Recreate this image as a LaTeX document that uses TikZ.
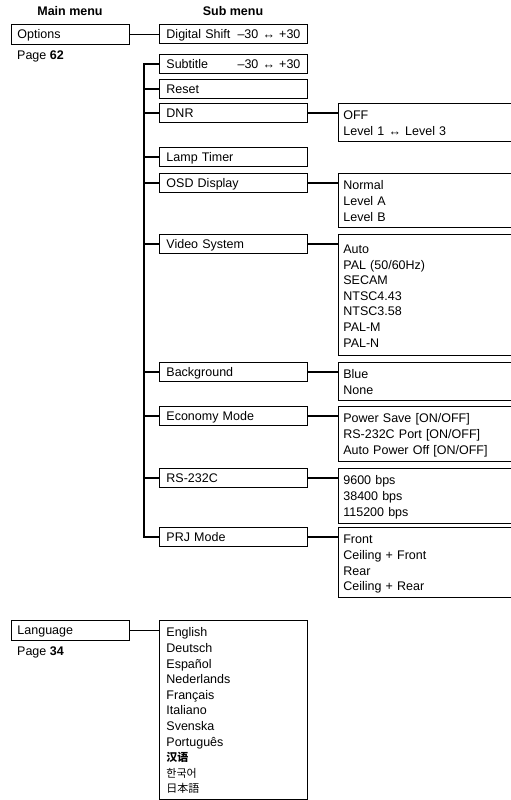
\documentclass[tikz,border=0pt]{standalone}
\usepackage{fontspec}
\setmainfont{Liberation Sans}
\newfontfamily\zhfont{Noto Sans CJK SC}
\newfontfamily\kofont{Noto Sans CJK KR}
\newfontfamily\jafont{Noto Sans CJK JP}
\usetikzlibrary{positioning}

\begin{document}
\begin{tikzpicture}[
  x=1pt, y=-1pt,
  font=\fontsize{12.5}{15.6}\selectfont,
  menubox/.style={
    rectangle, draw, line width=0.9pt, anchor=north west,
    text width=106pt, inner xsep=6pt, inner ysep=2pt,
    text height=9pt, text depth=0pt, minimum height=20pt
  },
  subbox/.style={
    menubox, text width=134pt, inner xsep=7pt, minimum height=19pt
  },
  optbox/.style={
    rectangle, draw, line width=0.9pt, align=left,
    text width=180pt, inner xsep=5pt, inner ysep=4.5pt,
    execute at begin node={\rule{0pt}{12pt}},
    execute at end node={\rule[-1.5pt]{0pt}{1.5pt}}
  },
  link/.style={line width=1.3pt},
  pagelbl/.style={inner sep=0pt},
  heading/.style={font=\fontsize{12.5}{15.6}\selectfont\bfseries}
]
  \useasboundingbox (0,0) rectangle (511,800);

  % Headings
  \node[heading] (mainhead) at (70,11) {Main menu};
  \node[heading] (subhead) at (233,11) {Sub menu};

  % Options
  \node[menubox] (options) at (11,24) {Options};
  \node[pagelbl, below right=6pt and 6pt of options.south west] (page62) {Page \textbf{62}};

  % Sub menu
  \node[subbox] (digshift) at (159,24) {Digital Shift\hfill –30 ↔ +30};
  \node[subbox] (subtitle) at (159,54) {Subtitle\hfill –30 ↔ +30};
  \node[subbox] (reset) at (159,79) {Reset};
  \node[subbox] (dnr) at (159,103) {DNR};
  \node[subbox] (lamptimer) at (159,147) {Lamp Timer};
  \node[subbox] (osd) at (159,173) {OSD Display};
  \node[subbox] (videosys) at (159,234) {Video System};
  \node[subbox] (background) at (159,362) {Background};
  \node[subbox] (economy) at (159,406) {Economy Mode};
  \node[subbox] (rs232c) at (159,468) {RS-232C};
  \node[subbox] (prjmode) at (159,527) {PRJ Mode};

  % Settings
  \node[optbox, right=30pt of dnr.north east, anchor=north west] (dnr-opt) {
    OFF\\
    Level 1 ↔ Level 3};
  \node[optbox, right=30pt of osd.north east, anchor=north west] (osd-opt) {
    Normal\\
    Level A\\
    Level B};
  \node[optbox, right=30pt of videosys.north east, anchor=north west, minimum height=121pt] (videosys-opt) {
    Auto\\
    PAL (50/60Hz)\\
    SECAM\\
    NTSC4.43\\
    NTSC3.58\\
    PAL-M\\
    PAL-N};
  \node[optbox, right=30pt of background.north east, anchor=north west] (background-opt) {
    Blue\\
    None};
  \node[optbox, right=30pt of economy.north east, anchor=north west] (economy-opt) {
    Power Save [ON/OFF]\\
    RS-232C Port [ON/OFF]\\
    Auto Power Off [ON/OFF]};
  \node[optbox, right=30pt of rs232c.north east, anchor=north west] (rs232c-opt) {
    9600 bps\\
    38400 bps\\
    115200 bps};
  \node[optbox, right=30pt of prjmode.north east, anchor=north west] (prjmode-opt) {
    Front\\
    Ceiling + Front\\
    Rear\\
    Ceiling + Rear};

  % Language
  \node[menubox] (language) at (11,620) {Language};
  \node[pagelbl, below right=6pt and 6pt of language.south west] (page34) {Page \textbf{34}};
  \node[optbox, text width=134pt, inner xsep=7pt, anchor=north west] (language-opt) at (159,620) {
    English\\
    Deutsch\\
    Español\\
    Nederlands\\
    Français\\
    Italiano\\
    Svenska\\
    Português\\
    {\zhfont\bfseries\fontsize{11}{15.6}\selectfont 汉语}\\
    {\kofont\fontsize{11}{15.6}\selectfont 한국어}\\
    {\jafont\fontsize{11}{15.6}\selectfont 日本語}};

  % Links
  \draw[link] (options.east) -- (options.east -| digshift.west);
  \draw[link] (subtitle.west) -- ++(-15pt,0) |- (prjmode.west);
  \foreach \n in {reset,dnr,lamptimer,osd,videosys,background,economy,rs232c}
    \draw[link] (\n.west) -- ++(-15pt,0);
  \foreach \n in {dnr,osd,videosys,background,economy,rs232c,prjmode}
    \draw[link] (\n.east) -- (\n.east -| \n-opt.west);
  \draw[link] (language.east) -- (language.east -| language-opt.west);

\end{tikzpicture}
\end{document}
